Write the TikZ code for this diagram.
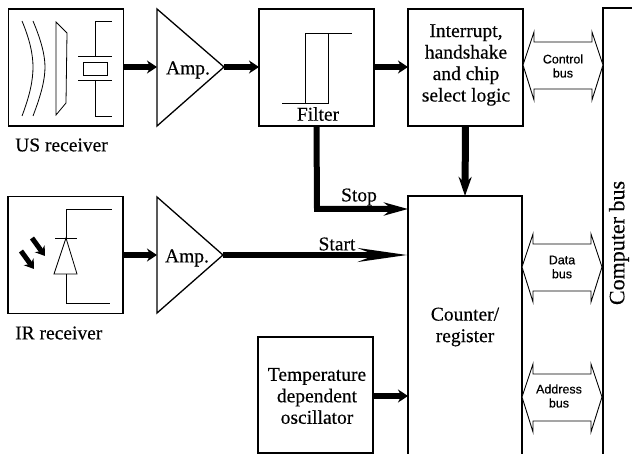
\documentclass[tikz,border=0pt]{standalone}
\usepackage{fontspec}
\setmainfont{Liberation Serif}[FakeBold=0.3]
\setsansfont{Liberation Sans}[FakeBold=0.4]
\usetikzlibrary{arrows.meta,calc}
\tikzset{
 blk/.style={draw=black,line width=1.3pt,fill=white,outer sep=0pt,inner sep=0pt,minimum width=115pt,minimum height=117pt},
 txt/.style={font=\fontsize{19.5}{21.5}\selectfont,align=center,inner sep=0pt,text=black},
 bustxt/.style={font=\sffamily\fontsize{12.5}{14}\selectfont,align=center,inner sep=0pt},
 thin part/.style={line width=0.8pt,draw=black},
 amp/.style={draw=black,line width=1.3pt,fill=white,line join=miter},
 busarr/.style={draw=black,line width=0.9pt,fill=white,line join=miter},
 flow/.style={line width=6pt,draw=black,-{Stealth[length=10pt,width=13pt]}},
}
\newcommand{\busarrow}[3]{% y-mid, x-left tip, x-right tip
 \draw[busarr] (#2,#1) -- (#2+11,#1-33) -- (#2+11,#1-23) -- (#3-11,#1-23) -- (#3-11,#1-33) -- (#3,#1)
   -- (#3-11,#1+35) -- (#3-11,#1+24) -- (#2+11,#1+24) -- (#2+11,#1+35) -- cycle;}
\begin{document}
\begin{tikzpicture}[x=1pt,y=-1pt]
\useasboundingbox (0,0) rectangle (632,454);
\clip (0,0) rectangle (632,454);
\fill[white] (0,0) rectangle (632,454);
% blocks
\node[blk] (us) at (66,67.5) {};
\node[blk] (filter) at (316.5,67.5) {};
\node[blk] (intr) at (465.5,67.5) {};
\node[blk] (ir) at (65.5,255) {};
\node[blk,minimum height=116pt] (temp) at (315.5,395) {};
\node[blk,minimum width=114pt,minimum height=300pt] (counter) at (465,346) {};
\node[blk,minimum width=60pt,minimum height=500pt] (cbus) at (633,258) {};
% amplifiers
\draw[amp] (157,9) -- (224,67) -- (157,126) -- cycle;
\draw[amp] (157,197) -- (223,255) -- (157,313) -- cycle;
\coordinate (amp1in) at (157,67);
\coordinate (amp1out) at (224,67);
\coordinate (amp2in) at (157,255);
\coordinate (amp2out) at (223,255);
\coordinate (stopbend) at (317,209);
\coordinate (stopend) at (408,209);
\coordinate (startend) at (408,255);
\coordinate (oscend) at (408,396);
\coordinate (usout) at (123,67);
\coordinate (irout) at (122,255);
\coordinate (filtin) at (259,67);
\coordinate (filtout) at (374,67);
\coordinate (intrin) at (408,67);
% US receiver internals
\draw[thin part] (22,21) .. controls (30,40) and (33,55) .. (33,67) .. controls (33,80) and (30,95) .. (22,116);
\draw[thin part] (33,21) .. controls (41,40) and (45,55) .. (45,67) .. controls (45,80) and (41,95) .. (33,116);
\draw[thin part] (56,22) -- (67,33) -- (66,103) -- (56,115) -- cycle;
\draw[thin part] (83,62) rectangle (107,75);
\draw[thin part] (78,56) -- (112,56);
\draw[thin part] (78,80) -- (112,80);
\draw[thin part] (95,56) -- (95,21) -- (112,21);
\draw[thin part] (95,80) -- (95,116) -- (112,116);
% IR receiver internals
\draw[thin part] (66,274) -- (54,274) -- (66,238) -- (77,274) -- cycle;
\draw[thin part] (55,238) -- (77,238);
\draw[thin part] (66,238) -- (66,209) -- (112,209);
\draw[thin part] (66,274) -- (66,303) -- (110,303);
\draw[line width=5pt,-{Stealth[length=9pt,width=12pt]}] (32,238) -- (45,256);
\draw[line width=5pt,-{Stealth[length=9pt,width=12pt]}] (21,251) -- (34,269);
% filter internals
\draw[thin part] (282,103) -- (328,103) -- (328,33);
\draw[thin part] (305,103) -- (305,33) -- (352,33);
% connectors
\draw[flow] (usout) -- (amp1in);
\draw[flow] (amp1out) -- (filtin);
\draw[flow] (filtout) -- (intrin);
\draw[flow] (irout) -- (amp2in);
\draw[flow,line width=7pt,-{Stealth[length=19pt,width=13pt]}] (intr.south) -- (counter.north);
\draw[line width=6pt,line join=miter,-{Stealth[length=24pt,width=13pt]}] (filter.south) -- (stopbend) -- (stopend);
\draw[line width=6pt,-{Stealth[length=48pt,width=13pt]}] (amp2out) -- (startend);
\draw[flow] (temp.east |- oscend) -- (oscend);
% bus arrows
\busarrow{65}{523}{603}
\busarrow{267}{522}{602}
\busarrow{397}{522}{602}
% labels
\node[txt] (l1) at (188,70) {Amp.};
\node[txt] (l2) at (187,258) {Amp.};
\node[txt,anchor=west] (l3) at (15,145) {US receiver};
\node[txt,anchor=west] (l4) at (15,333) {IR receiver};
\node[txt] (l5) at (318,114) {Filter};
\node[txt] (l6) at (359,197) {Stop};
\node[txt] (l7) at (337,244) {Start};
\node[txt] (l8) at (466,65) {Interrupt,\\handshake\\and chip\\select logic};
\node[txt] (l9) at (465,327) {Counter/\\register};
\node[txt] (l10) at (317,396) {Temperature\\dependent\\oscillator};
\node[bustxt] (l11) at (563,66) {Control\\bus};
\node[bustxt] (l12) at (562,267) {Data\\bus};
\node[bustxt] (l13) at (559,396) {Address\\bus};
\node[txt,font=\fontsize{22}{24}\selectfont,rotate=90] (l14) at (619,243) {Computer bus};
\end{tikzpicture}
\end{document}
